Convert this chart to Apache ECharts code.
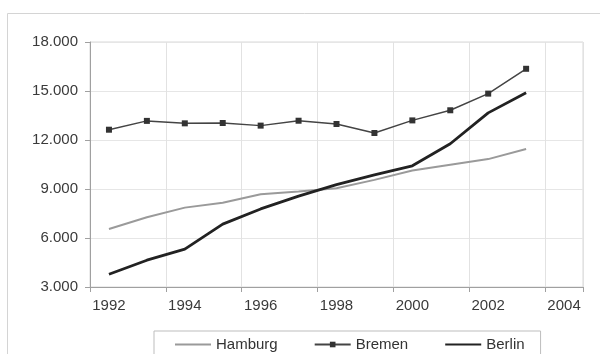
<!DOCTYPE html>
<html>
<head>
<meta charset="utf-8">
<script src="https://cdn.jsdelivr.net/npm/echarts@6/dist/echarts.min.js"></script>
<style>
  html, body { margin: 0; padding: 0; background: #fff; }
  #chart { width: 600px; height: 354px; }
</style>
</head>
<body>
<div id="chart"></div>
<script>
// Years on the category axis (2004 stays empty)
const years = ['1992','1993','1994','1995','1996','1997','1998','1999','2000','2001','2002','2003','2004'];

// Values per city, 1992–2003
const hamburg = [6550, 7270, 7860, 8160, 8680, 8840, 9050, 9560, 10130, 10480, 10830, 11450];
const bremen  = [12630, 13170, 13020, 13040, 12880, 13180, 12980, 12430, 13200, 13820, 14840, 16360];
const berlin  = [3780, 4640, 5320, 6850, 7780, 8560, 9270, 9870, 10420, 11770, 13660, 14890];

// Value axis range
const yMin = 3000, yMax = 18000, yStep = 3000;

const chart = echarts.init(document.getElementById('chart'), null, { renderer: 'canvas' });
const font = 'Liberation Sans, Arial, sans-serif';

chart.setOption({
  animation: false,
  backgroundColor: '#fff',
  textStyle: { fontFamily: font },
  graphic: [{
    type: 'rect',
    shape: { x: 7.5, y: 13.5, width: 640, height: 400 },
    style: { fill: 'none', stroke: '#d4d4d4', lineWidth: 1 },
    silent: true, z: -1
  }],
  grid: {
    left: 90, right: 17, top: 42, bottom: 67,
    show: true, borderColor: '#d8d8d8', borderWidth: 1, backgroundColor: '#fff'
  },
  xAxis: {
    type: 'category',
    data: years,
    boundaryGap: true,
    axisLine: { lineStyle: { color: '#a0a0a0', width: 1 } },
    axisTick: { show: true, interval: 1, length: 5, lineStyle: { color: '#a0a0a0' } },
    axisLabel: { interval: 1, color: '#3a3a3a', fontSize: 15, fontFamily: font, margin: 11 },
    splitLine: { show: true, interval: 1, lineStyle: { color: '#e2e2e2', width: 1 } }
  },
  yAxis: {
    type: 'value',
    min: yMin, max: yMax, interval: yStep,
    axisLine: { show: true, lineStyle: { color: '#a0a0a0', width: 1 } },
    axisTick: { show: true, length: 5, lineStyle: { color: '#a0a0a0' } },
    axisLabel: {
      color: '#3a3a3a', fontSize: 15, fontFamily: font, margin: 12,
      formatter: v => (v / 1000).toFixed(3)
    },
    splitLine: { show: true, lineStyle: { color: '#e6e6e6', width: 1 } }
  },
  legend: {
    left: 154, top: 331,
    padding: [6, 16, 20, 20],
    itemGap: 36,
    itemWidth: 36, itemHeight: 7,
    borderColor: '#bdbdbd', borderWidth: 1,
    textStyle: { color: '#333', fontSize: 15, fontFamily: font },
    data: [
      { name: 'Hamburg', itemStyle: { opacity: 0 } },
      { name: 'Bremen' },
      { name: 'Berlin', itemStyle: { opacity: 0 } }
    ]
  },
  series: [
    {
      name: 'Hamburg', type: 'line', data: hamburg,
      symbol: 'none',
      lineStyle: { color: '#9a9a9a', width: 2 },
      itemStyle: { color: '#9a9a9a' }
    },
    {
      name: 'Bremen', type: 'line', data: bremen,
      symbol: 'rect', symbolSize: 6,
      lineStyle: { color: '#444', width: 1.5 },
      itemStyle: { color: '#333' }
    },
    {
      name: 'Berlin', type: 'line', data: berlin,
      symbol: 'none',
      lineStyle: { color: '#222', width: 2.8 },
      itemStyle: { color: '#222' }
    }
  ]
});
</script>
</body>
</html>
